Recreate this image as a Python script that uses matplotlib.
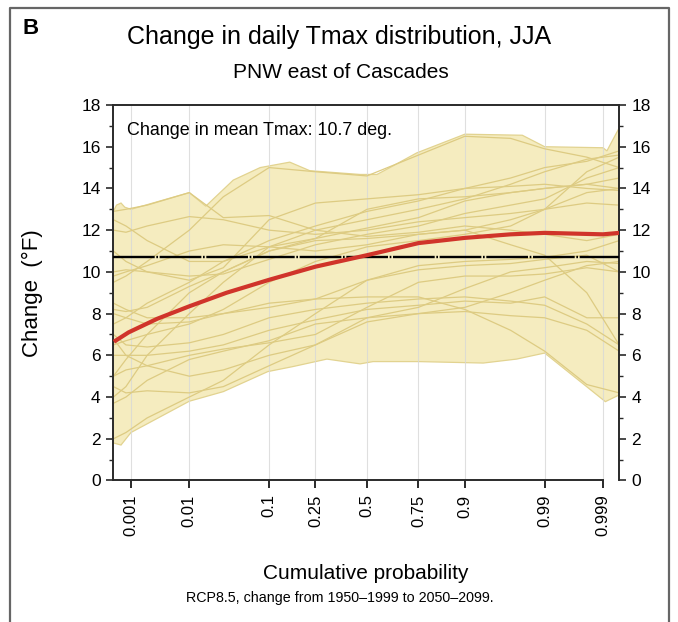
import numpy as np
import matplotlib
matplotlib.use('Agg')
import matplotlib.pyplot as plt
from matplotlib.ticker import FixedLocator, FixedFormatter, MultipleLocator
from matplotlib.lines import Line2D
from statistics import NormalDist

plt.rcParams['font.family'] = ['Liberation Sans', 'DejaVu Sans']
plt.rcParams['lines.scale_dashes'] = False

# ---------------- data ----------------
tick_probs = [0.001, 0.01, 0.1, 0.25, 0.5, 0.75, 0.9, 0.99, 0.999]
tick_labels = ['0.001', '0.01', '0.1', '0.25', '0.5', '0.75', '0.9', '0.99', '0.999']

# envelope of all models (upper and lower bound)
upper_probs = [0.00045, 0.00052, 0.00064, 0.00076, 0.001, 0.01, 0.0174, 0.040, 0.081,
               0.156, 0.227, 0.464, 0.552, 0.618, 0.742, 0.90, 0.979, 0.99, 0.999,
               0.99916, 0.99952]
upper_vals = [12.9, 13.2, 13.3, 13.1, 13.0, 13.8, 13.15, 14.4, 15.0,
              15.26, 14.85, 14.67, 14.67, 15.0, 15.7, 16.6, 16.55, 16.0, 15.95,
              15.8, 16.9]
lower_probs = [0.00045, 0.00064, 0.001, 0.01, 0.03, 0.097, 0.166, 0.30, 0.464,
               0.532, 0.749, 0.936, 0.975, 0.99, 0.9991, 0.99952]
lower_vals = [1.8, 1.7, 2.3, 3.8, 4.26, 5.22, 5.46, 5.82, 5.59,
              5.70, 5.70, 5.63, 5.82, 6.11, 3.78, 4.1]

# individual model curves
model_probs = [0.00045, 0.0008, 0.002, 0.01, 0.03, 0.1, 0.25, 0.5, 0.75, 0.9,
               0.97, 0.99, 0.998, 0.99952]
m01 = [12.9, 13.0, 13.2, 13.8, 12.6, 12.7, 12.0, 11.7, 11.9, 12.2, 12.0, 11.8, 11.5, 11.8]
m02 = [9.5, 9.8, 10.5, 12.0, 13.6, 15.0, 14.8, 14.6, 15.6, 16.5, 16.4, 15.9, 15.5, 15.0]
m03 = [12.0, 11.9, 12.2, 12.65, 12.5, 12.0, 11.8, 12.0, 12.4, 12.6, 12.8, 13.0, 13.3, 13.2]
m04 = [10.0, 10.1, 10.0, 9.8, 9.9, 10.6, 11.3, 11.8, 12.2, 12.8, 13.2, 13.5, 14.5, 15.0]
m05 = [11.0, 10.5, 10.0, 9.6, 10.2, 12.5, 13.3, 13.5, 13.7, 14.0, 14.1, 14.2, 14.0, 13.9]
m06 = [8.2, 8.1, 8.3, 9.3, 10.0, 11.0, 11.5, 11.6, 11.8, 12.0, 12.5, 13.0, 13.8, 14.0]
m07 = [6.5, 6.7, 7.0, 7.5, 8.2, 9.5, 10.5, 11.2, 11.5, 11.8, 12.2, 13.0, 14.8, 15.5]
m08 = [4.0, 4.5, 6.0, 8.0, 9.5, 11.2, 12.0, 12.5, 13.0, 13.5, 14.2, 14.8, 15.4, 15.6]
m09 = [5.0, 5.8, 7.0, 9.0, 10.0, 11.0, 11.6, 13.0, 13.5, 13.6, 13.8, 14.0, 14.2, 14.5]
m10 = [7.0, 6.5, 6.4, 6.6, 7.0, 7.8, 8.2, 8.5, 8.7, 8.8, 8.6, 8.4, 7.5, 6.5]
m11 = [6.0, 6.0, 6.0, 6.2, 6.5, 7.2, 7.7, 8.2, 8.4, 8.6, 8.5, 8.8, 7.8, 7.8]
m12 = [3.7, 4.0, 4.8, 5.8, 6.2, 6.7, 7.5, 7.8, 8.0, 8.1, 7.9, 7.8, 7.2, 6.2]
m13 = [4.5, 4.2, 4.3, 4.2, 4.5, 5.5, 6.5, 7.6, 8.0, 8.3, 9.0, 9.6, 10.3, 10.5]
m14 = [5.0, 5.3, 5.5, 6.0, 6.3, 6.6, 7.0, 8.3, 9.5, 9.8, 9.8, 9.9, 10.2, 10.0]
m15 = [2.0, 2.3, 3.0, 4.0, 4.8, 6.5, 8.0, 9.6, 10.3, 10.5, 10.6, 10.7, 11.0, 11.5]
m16 = [8.5, 8.2, 7.8, 7.8, 8.0, 8.3, 8.7, 9.6, 10.1, 10.3, 10.4, 10.6, 10.8, 10.0]
m17 = [12.5, 12.2, 11.5, 10.5, 10.5, 11.2, 11.6, 12.1, 12.6, 13.4, 13.8, 14.0, 14.2, 14.0]
m18 = [7.5, 7.8, 8.5, 9.5, 10.5, 11.5, 12.2, 12.9, 13.4, 14.0, 14.5, 15.0, 15.3, 15.8]
m19 = [6.8, 6.0, 5.5, 5.0, 5.3, 6.0, 6.5, 7.8, 8.3, 9.2, 10.0, 10.2, 10.5, 10.4]
m20 = [9.8, 10.0, 10.3, 11.0, 11.3, 11.2, 11.0, 11.3, 11.8, 12.0, 11.3, 10.8, 9.0, 6.5]
m21 = [8.0, 7.8, 7.5, 7.6, 8.0, 8.5, 8.7, 8.8, 8.8, 8.2, 7.2, 6.2, 4.6, 4.2]
models = [m01, m02, m03, m04, m05, m06, m07, m08, m09, m10, m11,
          m12, m13, m14, m15, m16, m17, m18, m19, m20, m21]

# multi-model mean curve
mean_probs = [0.00046, 0.0009, 0.003, 0.01, 0.033, 0.1, 0.25, 0.5, 0.75, 0.9,
              0.97, 0.99, 0.999, 0.99952]
mean_vals = [6.65, 7.1, 7.75, 8.35, 9.0, 9.62, 10.25, 10.8, 11.38, 11.63,
             11.8, 11.87, 11.8, 11.87]

mean_change = 10.7

# ---------------- figure ----------------
fig = plt.figure(figsize=(6.78, 6.22), dpi=100)
ax = fig.add_axes([0.1667, 0.2275, 0.7463, 0.6037])

_nd = NormalDist()
_ppf = np.vectorize(_nd.inv_cdf, otypes=[float])
_cdf = np.vectorize(_nd.cdf, otypes=[float])


def fwd(p):
    p = np.clip(np.asarray(p, dtype=float), 1e-12, 1 - 1e-12)
    return _ppf(p)


def inv(z):
    return _cdf(np.asarray(z, dtype=float))


ax.set_xscale('function', functions=(fwd, inv))
xmin, xmax = _nd.cdf(-3.325), _nd.cdf(3.30)
ax.set_xlim(xmin, xmax)
ax.set_ylim(0, 18)

fill_col = '#F5ECBF'
line_col = '#DDCB82'

ax.fill(np.r_[upper_probs, lower_probs[::-1]], np.r_[upper_vals, lower_vals[::-1]],
        facecolor=fill_col, edgecolor='#E2D390', lw=0.9, zorder=1)

for tp in tick_probs:
    ax.axvline(tp, color='#D8D8D8', lw=0.8, alpha=0.8, zorder=1.5)

for m in models:
    ax.plot(model_probs, m, color=line_col, lw=0.9, zorder=2)

ax.axhline(mean_change, color='black', lw=1.7, ls=(0, (30, 1.2, 1.2, 1.2)), zorder=3)
ax.plot(mean_probs, mean_vals, color='#D0342A', lw=3.0, zorder=4,
        solid_capstyle='butt')

ax.text(0.028, 0.931, 'Change in mean Tmax: %.1f deg.' % mean_change,
        transform=ax.transAxes, fontsize=12.9, va='center', ha='left')

# axes formatting
ax.xaxis.set_major_locator(FixedLocator(tick_probs))
ax.xaxis.set_major_formatter(FixedFormatter(tick_labels))
ax.xaxis.set_minor_locator(FixedLocator([]))
ax.yaxis.set_major_locator(MultipleLocator(2))
ax.yaxis.set_minor_locator(MultipleLocator(1))

for s in ax.spines.values():
    s.set_linewidth(1.4)
    s.set_color('#2a2a2a')
ax.spines['bottom'].set_bounds(xmin, 0.999)

ax.tick_params(axis='x', which='major', direction='out', length=6, width=1.4,
               labelsize=12, labelrotation=90, pad=4, color='#2a2a2a')
ax.tick_params(axis='y', which='both', direction='out', left=True, right=True,
               labelleft=True, labelright=True, color='#2a2a2a')
ax.tick_params(axis='y', which='major', length=5, width=1.2, labelsize=12.5, pad=4)
ax.tick_params(axis='y', which='minor', length=3, width=1.0)

ax.set_ylabel('Change  (°F)', fontsize=16)
ax.yaxis.set_label_coords(-0.138, 0.5)
ax.set_xlabel('Cumulative probability', fontsize=15)
ax.xaxis.set_label_coords(0.5, -0.222)

fig.text(23 / 678, 1 - 29 / 622, 'B', fontsize=16, fontweight='bold',
         ha='left', va='center')
fig.text(339 / 678, 1 - 37 / 622, 'Change in daily Tmax distribution, JJA',
         fontsize=18, ha='center', va='center')
fig.text(341 / 678, 1 - 72 / 622, 'PNW east of Cascades', fontsize=15,
         ha='center', va='center')
fig.text(340 / 678, 1 - 598 / 622, 'RCP8.5, change from 1950\u20131999 to 2050\u20132099.',
         fontsize=10.3, ha='center', va='center')

fig.add_artist(Line2D([9.5 / 678, 9.5 / 678, 669 / 678, 669 / 678],
                      [0, 1 - 8 / 622, 1 - 8 / 622, 0],
                      transform=fig.transFigure, color='#666666', lw=1.6))

fig.savefig('out.png', dpi=100)
